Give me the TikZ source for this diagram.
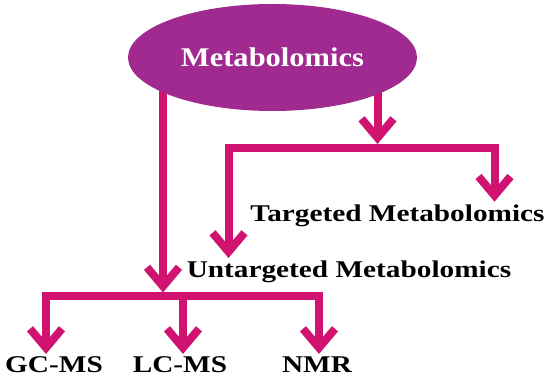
\documentclass[tikz,border=0pt]{standalone}
\usepackage{fontspec}
\usetikzlibrary{shapes.geometric,arrows.meta,backgrounds}
\newfontfamily\lblfont{Liberation Serif}[FakeStretch=1.22]
\newfontfamily\ttlfont{Liberation Serif}[FakeStretch=1.13]
\definecolor{linkpink}{RGB}{208,18,112}
\definecolor{ellpurple}{RGB}{160,42,143}
\tikzset{
  conn/.style={draw=linkpink, line width=8pt},
  barb/.tip={Straight Barb[length=19pt,width=32pt]},
  lbl/.style={inner sep=0pt, font=\lblfont\bfseries\fontsize{24}{26}\selectfont, text=black},
  ttl/.style={ellipse, fill=ellpurple, draw=none, minimum width=289pt, minimum height=107pt, inner sep=0pt,
    font=\ttlfont\bfseries\fontsize{27}{29}\selectfont, text=white}
}
\begin{document}
\begin{tikzpicture}[x=1pt,y=-1pt]
\useasboundingbox (0,0) rectangle (550,377);
% nodes
\node[ttl] (met) at (272.5,57.5) {Metabolomics};
\node[lbl, anchor=base] (tgt) at (397.5,222) {Targeted Metabolomics};
\node[lbl, anchor=base] (utg) at (349,278) {Untargeted Metabolomics};
\node[lbl, anchor=base] (gc) at (54,373) {GC-MS};
\node[lbl, anchor=base] (lc) at (180,373) {LC-MS};
\node[lbl, anchor=base] (nmr) at (317,373) {NMR};
% junction coordinates
\coordinate (sL) at (163,85);
\coordinate (bTip) at (163,292.5);
\coordinate (gcJ) at (46,296);
\coordinate (lcJ) at (183,296);
\coordinate (nmrJ) at (319,296);
\coordinate (gcTip) at (46,354);
\coordinate (lcTip) at (183,354);
\coordinate (nmrTip) at (319,354);
\coordinate (sR) at (377.5,85);
\coordinate (uTip) at (377.5,144);
\coordinate (uL) at (228.5,148.5);
\coordinate (uR) at (494.5,148.5);
\coordinate (utgTip) at (228.5,258);
\coordinate (tgtTip) at (494.5,201.7);
% connectors
\begin{scope}[on background layer]
\draw[conn,-{barb}] (sL) -- (bTip);
\draw[conn,-{barb}] (sR) -- (uTip);
\draw[conn,{barb}-{barb}] (utgTip) -- (uL) -- (uR) -- (tgtTip);
\draw[conn,{barb}-{barb}] (gcTip) -- (gcJ) -- (nmrJ) -- (nmrTip);
\draw[conn,-{barb}] (lcJ) -- (lcTip);
\end{scope}
\end{tikzpicture}
\end{document}
